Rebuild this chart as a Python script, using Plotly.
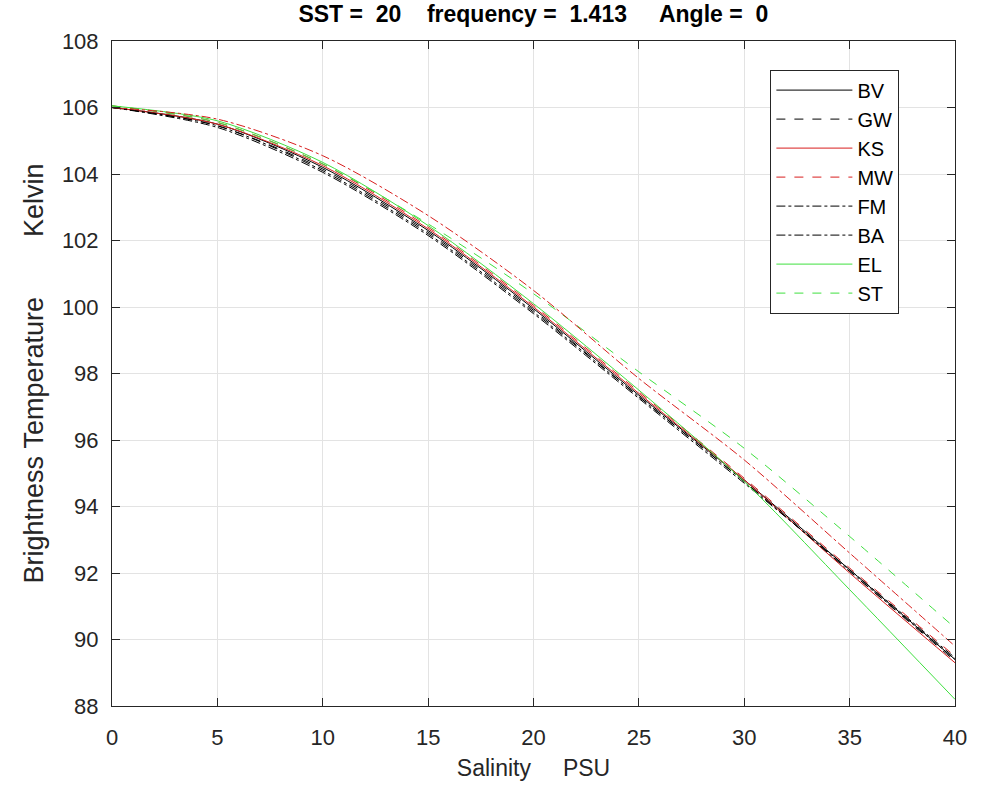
import plotly.graph_objects as go

salinity = [0, 5, 10, 15, 20, 25, 30, 35, 40]

BV = [106.00, 105.50, 104.20, 102.30, 99.95, 97.35, 94.80, 92.10, 89.40]
GW = [106.00, 105.45, 104.15, 102.25, 99.90, 97.30, 94.75, 92.05, 89.35]
KS = [106.00, 105.50, 104.25, 102.35, 100.00, 97.40, 94.80, 92.00, 89.30]
MW = [106.05, 105.55, 104.30, 102.40, 100.05, 97.45, 94.85, 92.15, 89.50]
FM = [106.00, 105.40, 104.05, 102.15, 99.80, 97.25, 94.70, 92.10, 89.45]
BA = [106.00, 105.45, 104.10, 102.20, 99.85, 97.30, 94.75, 92.05, 89.40]
EL = [106.05, 105.60, 104.35, 102.45, 100.10, 97.50, 94.75, 91.50, 88.20]
ST = [106.05, 105.55, 104.30, 102.50, 100.40, 98.05, 95.75, 93.10, 90.35]
EXTRA = [106.00, 105.65, 104.55, 102.75, 100.50, 97.85, 95.40, 92.60, 89.80]

RED = "#d81e1e"
GREEN = "#3ee03e"

series = [
    ("BV", BV, "black", "solid", True),
    ("GW", GW, "black", "dash", True),
    ("KS", KS, RED, "solid", True),
    ("MW", MW, RED, "dash", True),
    ("FM", FM, "black", "dashdot", True),
    ("BA", BA, "black", "dashdot", True),
    ("EL", EL, GREEN, "solid", True),
    ("ST", ST, GREEN, "dash", True),
    ("", EXTRA, RED, "dashdot", False),
]

fig = go.Figure()
for name, vals, color, dash, show in series:
    fig.add_trace(go.Scatter(
        x=salinity, y=vals, mode="lines", name=name, showlegend=show,
        line=dict(color=color, dash=dash, width=1, shape="spline", smoothing=0.8),
    ))

font = "Liberation Sans, Arial, sans-serif"
nb = "\u00a0"
title = f"SST ={nb}{nb}20{nb}{nb}{nb}{nb}frequency ={nb}{nb}1.413{nb}{nb}{nb}{nb}{nb}Angle ={nb}{nb}0"

fig.update_layout(
    width=984, height=791,
    margin=dict(l=112, r=29, t=41, b=85),
    paper_bgcolor="white", plot_bgcolor="white",
    title=dict(text=f"<b>{title}</b>", x=0.542, xanchor="center", y=0.982, yanchor="middle",
               font=dict(family=font, size=23, color="#000000")),
    font=dict(family=font, size=22, color="#262626"),
    legend=dict(x=0.781, y=0.957, xanchor="left", yanchor="top",
                bordercolor="#262626", borderwidth=1, bgcolor="white",
                font=dict(family=font, size=20, color="#000000"),
                itemwidth=76, tracegroupgap=0),
)
axis_common = dict(
    showgrid=True, gridcolor="#e3e3e3", gridwidth=1,
    showline=True, linecolor="#262626", linewidth=1, mirror="allticks",
    ticks="inside", ticklen=8, tickcolor="#262626",
    tickfont=dict(family=font, size=22, color="#262626"),
    zeroline=False,
)
fig.update_xaxes(range=[0, 40], dtick=5, tick0=0, ticklabelstandoff=12,
                 title=dict(text=f"Salinity{nb}{nb}{nb}{nb}{nb}PSU", font=dict(family=font, size=23, color="#262626"), standoff=10),
                 **axis_common)
fig.update_yaxes(range=[88, 108], dtick=2, tick0=88, ticklabelstandoff=8,
                 title=dict(text=f"Brightness{nb}Temperature{nb}{nb}{nb}{nb}{nb}{nb}{nb}{nb}Kelvin", font=dict(family=font, size=27, color="#262626"), standoff=10),
                 **axis_common)

fig.write_html("out.html")
